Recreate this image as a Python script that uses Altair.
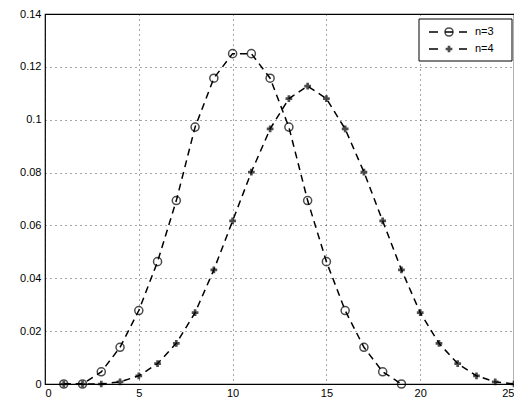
import altair as alt
import pandas as pd

x3 = list(range(1, 20))
p3 = [0, 0, 0.0046, 0.0139, 0.0278, 0.0463, 0.0694, 0.0972, 0.1157, 0.125,
      0.125, 0.1157, 0.0972, 0.0694, 0.0463, 0.0278, 0.0139, 0.0046, 0]
x4 = list(range(1, 26))
p4 = [0, 0, 0, 0.0008, 0.0031, 0.0077, 0.0154, 0.0270, 0.0432, 0.0617,
      0.0802, 0.0965, 0.1080, 0.1127, 0.1080, 0.0965, 0.0802, 0.0617, 0.0432,
      0.0270, 0.0154, 0.0077, 0.0031, 0.0008, 0]

df3 = pd.DataFrame({"x": x3, "p": p3})
df4 = pd.DataFrame({"x": x4, "p": p4})

W, H = 469, 370

xs = alt.Scale(domain=[0, 25], nice=False, zero=False)
ys = alt.Scale(domain=[0, 0.14], nice=False)
xax = alt.Axis(values=[0, 5, 10, 15, 20, 25], grid=True, gridDash=[1, 4], gridColor="#000",
               gridOpacity=0.7, title=None, tickSize=0, labelPadding=3, domain=False,
               labelFont="Liberation Sans", labelFontSize=11, labelColor="#000")
yax = alt.Axis(values=[0, 0.02, 0.04, 0.06, 0.08, 0.1, 0.12, 0.14], grid=True, gridDash=[1, 4],
               gridColor="#000", gridOpacity=0.7, title=None, tickSize=0, labelPadding=4,
               domain=False, labelFont="Liberation Sans", labelFontSize=11, labelColor="#000",
               labelExpr="datum.value == 0 ? '0' : format(datum.value, '.2~f')")

X = alt.X("x:Q", scale=xs, axis=xax)
Y = alt.Y("p:Q", scale=ys, axis=yax)

dash = [7, 5]
lw_ = 1.5
l3 = alt.Chart(df3).mark_line(color="black", strokeDash=dash, strokeWidth=lw_, clip=False).encode(x=X, y=Y)
m3 = alt.Chart(df3).mark_point(shape="circle", filled=False, color="black", size=65, strokeWidth=1.5, clip=False).encode(x=X, y=Y)
l4 = alt.Chart(df4).mark_line(color="black", strokeDash=dash, strokeWidth=lw_, clip=False).encode(x=X, y=Y)
m4 = alt.Chart(df4).mark_point(shape="cross", filled=True, color="black", size=45, clip=False).encode(x=X, y=Y)

# legend
lw, lh = 93, 42
lx0, ly0 = W - 2 - lw, 5
box = alt.Chart(pd.DataFrame({"a": [0]})).mark_rect(fill="white", stroke="black", strokeWidth=1).encode(
    x=alt.value(lx0), x2=alt.value(lx0 + lw), y=alt.value(ly0), y2=alt.value(ly0 + lh))
leg_df = pd.DataFrame({"lab": ["n=3", "n=4"], "yy": [ly0 + 13, ly0 + 30]})
legl1 = alt.Chart(leg_df).mark_rule(color="black", strokeWidth=lw_).encode(
    x=alt.value(lx0 + 10), x2=alt.value(lx0 + 19), y=alt.Y("yy:Q", scale=None))
legl2 = alt.Chart(leg_df).mark_rule(color="black", strokeWidth=lw_).encode(
    x=alt.value(lx0 + 40), x2=alt.value(lx0 + 48), y=alt.Y("yy:Q", scale=None))
legl3 = alt.Chart(leg_df.iloc[[0]]).mark_rule(color="black", strokeWidth=lw_).encode(
    x=alt.value(lx0 + 26), x2=alt.value(lx0 + 34), y=alt.Y("yy:Q", scale=None))
legm3 = alt.Chart(leg_df.iloc[[0]]).mark_point(shape="circle", filled=False, color="black", size=65, strokeWidth=1.5).encode(
    x=alt.value(lx0 + 30), y=alt.Y("yy:Q", scale=None))
legm4 = alt.Chart(leg_df.iloc[[1]]).mark_point(shape="cross", filled=True, color="black", size=45).encode(
    x=alt.value(lx0 + 30), y=alt.Y("yy:Q", scale=None))
legt = alt.Chart(leg_df).mark_text(align="left", baseline="middle", font="Liberation Sans", fontSize=11, color="black").encode(
    x=alt.value(lx0 + 56), y=alt.Y("yy:Q", scale=None), text="lab:N")

chart = alt.layer(l3, l4, m3, m4, box, legl1, legl2, legl3, legm3, legm4, legt).properties(
    width=W, height=H, padding={"left": 37, "top": 6, "right": 0, "bottom": 16},
    autosize=alt.AutoSizeParams(type="none")
).configure_view(stroke="black", strokeWidth=1.2)

chart.save("out.html", embed_options={"renderer": "svg", "actions": False})
